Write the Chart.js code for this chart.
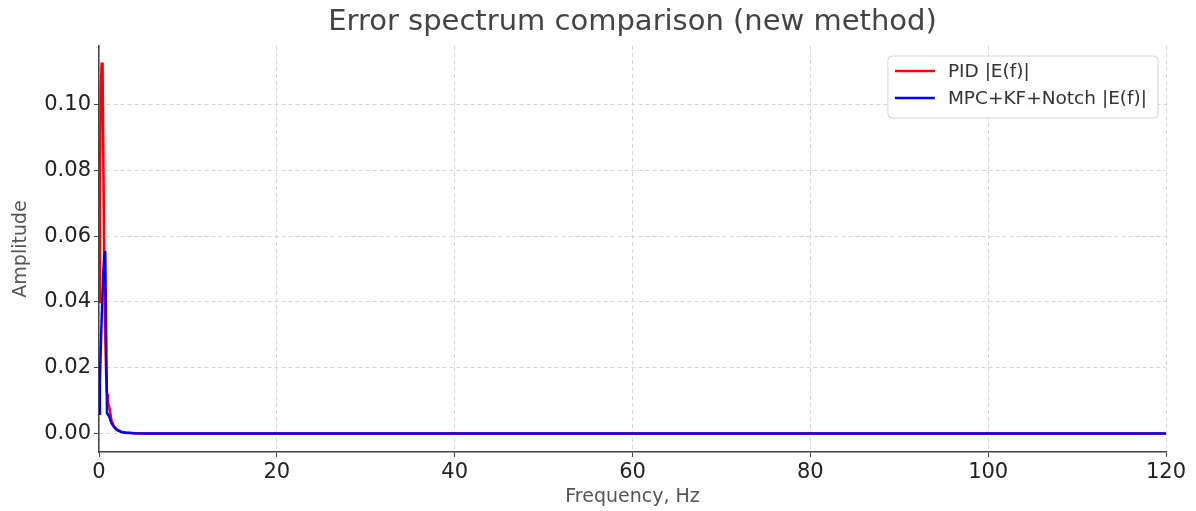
<!DOCTYPE html>
<html>
<head>
<meta charset="utf-8">
<title>Error spectrum comparison (new method)</title>
<script src="https://cdn.jsdelivr.net/npm/chart.js@4/dist/chart.umd.min.js"></script>
<style>
  html, body { margin: 0; padding: 0; background: #fff; }
  #wrap { width: 1196px; height: 511px; }
</style>
</head>
<body>
<div id="wrap"><canvas id="spectrum" width="1196" height="511"></canvas></div>
<script>
// data
const freqHz = [0, 0.1, 0.2, 0.3, 0.4, 0.5, 0.6, 0.7, 0.8, 0.9, 1.0, 1.1, 1.2, 1.4, 1.7, 2.0, 2.5, 3.0, 4.0, 5.0, 120];
const pidAmp = [0.040, 0.075, 0.105, 0.1124, 0.1124, 0.080, 0.050, 0.030, 0.018, 0.012, 0.0095, 0.0085, 0.0075, 0.0040, 0.0022, 0.0013, 0.0006, 0.0003, 0.00012, 0.00006, 0];
const mpcAmp = [0.006, 0.016, 0.026, 0.035, 0.043, 0.050, 0.054, 0.0555, 0.030, 0.0062, 0.0058, 0.0055, 0.0048, 0.0032, 0.0019, 0.0011, 0.0005, 0.00025, 0.0001, 0.00005, 0];
const xTicks = [0, 20, 40, 60, 80, 100, 120];
const yTicks = [0, 0.02, 0.04, 0.06, 0.08, 0.10];
const seriesNames = ['PID |E(f)|', 'MPC+KF+Notch |E(f)|'];

const FONT = "'DejaVu Sans', sans-serif";

const toPoints = (ys) => freqHz.map((f, i) => ({ x: f, y: ys[i] }));

// legend box in the upper right corner of the plot, matplotlib style
const boxLegend = {
  id: 'boxLegend',
  afterDraw(chart) {
    const { ctx, chartArea } = chart;
    const sets = chart.data.datasets;
    ctx.save();
    ctx.font = '18.5px ' + FONT;
    const textW = Math.max(...sets.map(d => ctx.measureText(d.label).width));
    const w = 60 + textW + 11;
    const h = 62;
    const left = chartArea.right - 8 - w;
    const top = chartArea.top + 10;

    ctx.beginPath();
    ctx.roundRect(left, top, w, h, 4);
    ctx.fillStyle = 'rgba(255,255,255,0.85)';
    ctx.fill();
    ctx.strokeStyle = '#d4d4d4';
    ctx.lineWidth = 1;
    ctx.stroke();

    sets.forEach((d, i) => {
      const y = top + 15 + i * 27;
      ctx.beginPath();
      ctx.moveTo(left + 7, y);
      ctx.lineTo(left + 47, y);
      ctx.strokeStyle = d.borderColor;
      ctx.lineWidth = 2.5;
      ctx.stroke();
      ctx.fillStyle = '#333';
      ctx.textBaseline = 'middle';
      ctx.fillText(d.label, left + 60, y + 1);
    });
    ctx.restore();
  }
};

new Chart(document.getElementById('spectrum'), {
  type: 'scatter',
  data: {
    datasets: [
      {
        label: seriesNames[0],
        data: toPoints(pidAmp),
        order: 1,
        showLine: true,
        borderColor: '#ff0000',
        backgroundColor: '#ff0000',
        borderWidth: 2.5,
        pointRadius: 0,
        tension: 0
      },
      {
        label: seriesNames[1],
        data: toPoints(mpcAmp),
        order: 0,
        showLine: true,
        borderColor: '#0000ff',
        backgroundColor: '#0000ff',
        borderWidth: 2.5,
        pointRadius: 0,
        tension: 0
      }
    ]
  },
  options: {
    responsive: false,
    animation: false,
    devicePixelRatio: 1,
    layout: { padding: { left: 0, right: 30, top: 0, bottom: 0 } },
    plugins: {
      legend: { display: false },
      tooltip: { enabled: false },
      title: {
        display: true,
        text: 'Error spectrum comparison (new method)',
        fullSize: false,
        color: '#444',
        font: { family: FONT, size: 29, weight: 'normal' },
        padding: { top: 5, bottom: 6.2 }
      }
    },
    scales: {
      x: {
        type: 'linear',
        min: 0,
        max: 120,
        afterBuildTicks: (s) => { s.ticks = xTicks.map(v => ({ value: v })); },
        afterFit: (s) => { s.height = 59; },
        ticks: {
          color: '#222',
          font: { family: FONT, size: 21 },
          padding: 3,
          maxRotation: 0,
          callback: (v) => String(v)
        },
        grid: { color: '#d6d6d6', lineWidth: 1, tickLength: 5, tickColor: '#444', tickWidth: 1 },
        border: { color: '#444', width: 1.5, dash: [4, 3] },
        title: {
          display: true,
          text: 'Frequency, Hz',
          color: '#555',
          font: { family: FONT, size: 19 },
          padding: { top: 0, bottom: 3 }
        }
      },
      y: {
        type: 'linear',
        min: -0.0056,
        max: 0.1178,
        afterBuildTicks: (s) => { s.ticks = yTicks.map(v => ({ value: v })); },
        afterFit: (s) => { s.width = 99; },
        ticks: {
          color: '#222',
          font: { family: FONT, size: 21 },
          padding: 3,
          callback: (v) => v.toFixed(2)
        },
        grid: { color: '#d6d6d6', lineWidth: 1, tickLength: 5, tickColor: '#444', tickWidth: 1 },
        border: { color: '#444', width: 1.5, dash: [4, 3] },
        title: {
          display: true,
          text: 'Amplitude',
          color: '#555',
          font: { family: FONT, size: 19 },
          padding: { top: 10, bottom: 0 }
        }
      }
    }
  },
  plugins: [boxLegend]
});
</script>
</body>
</html>
